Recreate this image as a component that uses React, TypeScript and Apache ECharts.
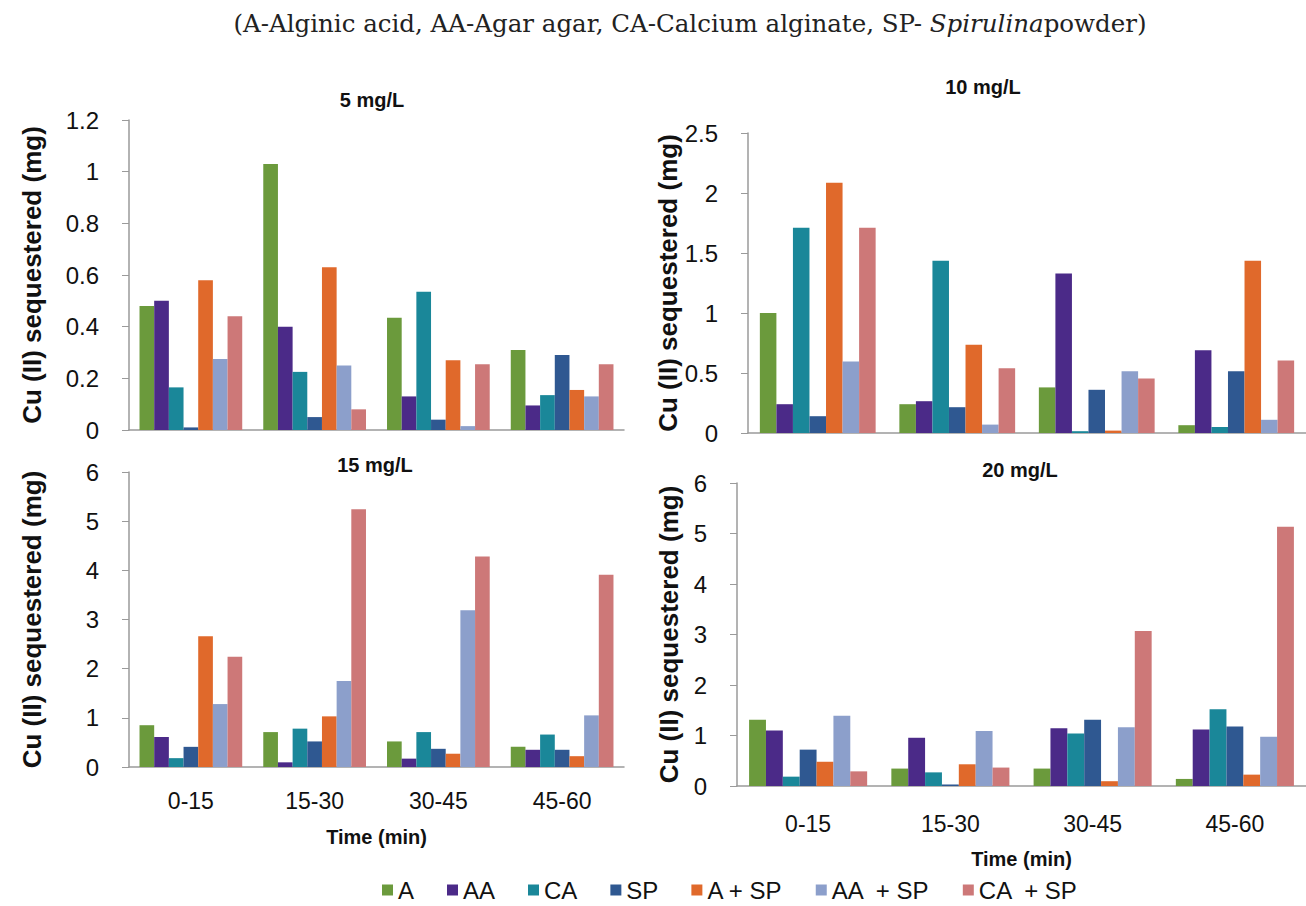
import React, { useEffect, useRef } from "react";
import * as echarts from "echarts";

const categories = ["0-15", "15-30", "30-45", "45-60"];
const seriesNames = ["A", "AA", "CA", "SP", "A + SP", "AA  + SP", "CA  + SP"];
const seriesColors = ["#6b9a3c", "#4b2a88", "#1a8799", "#2f5891", "#e0692b", "#8c9fcb", "#cd7878"];
const panelTitles = ["5 mg/L", "10 mg/L", "15 mg/L", "20 mg/L"];

// rows: A, AA, CA, SP, A+SP, AA+SP, CA+SP ; columns: categories
const mg5 = [
  [0.48, 1.03, 0.435, 0.31],
  [0.5, 0.4, 0.13, 0.095],
  [0.165, 0.225, 0.535, 0.135],
  [0.01, 0.05, 0.04, 0.29],
  [0.58, 0.63, 0.27, 0.155],
  [0.275, 0.25, 0.015, 0.13],
  [0.44, 0.08, 0.255, 0.255],
];
const mg10 = [
  [1.0, 0.24, 0.38, 0.065],
  [0.24, 0.265, 1.33, 0.69],
  [1.71, 1.435, 0.015, 0.05],
  [0.14, 0.215, 0.36, 0.515],
  [2.085, 0.735, 0.02, 1.435],
  [0.595, 0.07, 0.515, 0.11],
  [1.71, 0.54, 0.455, 0.605],
];
const mg15 = [
  [0.85, 0.71, 0.52, 0.41],
  [0.61, 0.095, 0.17, 0.35],
  [0.18, 0.78, 0.71, 0.66],
  [0.41, 0.52, 0.37, 0.35],
  [2.66, 1.03, 0.27, 0.22],
  [1.28, 1.75, 3.19, 1.05],
  [2.24, 5.24, 4.28, 3.91],
];
const mg20 = [
  [1.31, 0.345, 0.345, 0.14],
  [1.1, 0.955, 1.145, 1.12],
  [0.185, 0.27, 1.04, 1.52],
  [0.72, 0.03, 1.31, 1.18],
  [0.48, 0.43, 0.095, 0.225],
  [1.39, 1.09, 1.165, 0.975],
  [0.29, 0.365, 3.07, 5.135],
];
const yMax = [1.2, 2.5, 6, 6];
const yInterval = [0.2, 0.5, 1, 1];
const yAxisTitle = "Cu (II) sequestered (mg)";
const xAxisTitle = "Time (min)";

const panels = [mg5, mg10, mg15, mg20];

const SANS = "'Liberation Sans', Arial, sans-serif";
const SERIF = "'DejaVu Serif', 'Liberation Serif', serif";

export default function App() {
  const ref = useRef<HTMLDivElement>(null);
  useEffect(() => {
    if (!ref.current) return;
    const chart = echarts.init(ref.current, undefined, { renderer: "svg" });
    const grids = [
      { left: 129, top: 120, width: 495, height: 310 },
      { left: 748, top: 133, width: 558, height: 300 },
      { left: 129, top: 472, width: 495, height: 295 },
      { left: 737, top: 483, width: 569, height: 303 },
    ];
    const nameGaps = [84, 66, 84, 55];
    const xLabelMargin = [0, 0, 22, 26];
    const xNameGap = [0, 0, 60, 63];
    const axisColor = "#9a9a9a";
    const xAxes = grids.map((_, i) => ({
      type: "category",
      gridIndex: i,
      data: categories,
      axisLine: { lineStyle: { color: axisColor, width: 1.5 } },
      axisTick: { show: false },
      axisLabel: {
        show: i >= 2,
        fontSize: 23,
        fontFamily: SANS,
        color: "#111",
        margin: xLabelMargin[i],
      },
      name: i >= 2 ? xAxisTitle : "",
      nameLocation: "middle",
      nameGap: xNameGap[i],
      nameTextStyle: { fontSize: 20, fontWeight: "bold", fontFamily: SANS, color: "#111" },
    }));
    const yAxes = grids.map((_, i) => ({
      type: "value",
      gridIndex: i,
      min: 0,
      max: yMax[i],
      interval: yInterval[i],
      splitLine: { show: false },
      axisLine: { show: true, lineStyle: { color: axisColor, width: 1.5 } },
      axisTick: { show: true, length: 7, lineStyle: { color: axisColor } },
      axisLabel: {
        fontSize: 24,
        fontFamily: SANS,
        color: "#111",
        margin: 30,
        formatter: (v: number) => String(+v.toFixed(2)),
      },
      name: yAxisTitle,
      nameLocation: "middle",
      nameGap: nameGaps[i],
      nameTextStyle: { fontSize: 26, fontWeight: "bold", fontFamily: SANS, color: "#111" },
    }));
    const series: any[] = [];
    panels.forEach((panel, p) => {
      panel.forEach((row, s) => {
        series.push({
          type: "bar",
          name: seriesNames[s],
          xAxisIndex: p,
          yAxisIndex: p,
          data: row,
          barGap: "0%",
          barCategoryGap: "17%",
          itemStyle: { color: seriesColors[s] },
        });
      });
    });
    const titlePos = [
      [372, 100],
      [983, 87],
      [375, 465],
      [1020, 470],
    ];
    chart.setOption({
      animation: false,
      backgroundColor: "#ffffff",
      grid: grids,
      xAxis: xAxes,
      yAxis: yAxes,
      series,
      legend: {
        data: seriesNames,
        left: 382,
        top: 878,
        padding: 0,
        itemWidth: 11,
        itemHeight: 11,
        itemGap: 33,
        icon: "rect",
        textStyle: { fontSize: 24, fontFamily: SANS, color: "#111", lineHeight: 24 },
      },
      graphic: [
        {
          type: "text",
          x: 690,
          y: 23,
          style: {
            text: "(A-Alginic acid, AA-Agar agar, CA-Calcium alginate, SP- {i|Spirulina}powder)",
            fontSize: 24.5,
            fontFamily: SERIF,
            fill: "#222",
            textAlign: "center",
            textVerticalAlign: "middle",
            rich: {
              i: {
                fontStyle: "italic",
                fontSize: 24.5,
                fontFamily: SERIF,
                fill: "#222",
              },
            },
          },
        },
        ...panelTitles.map((t, i) => ({
          type: "text",
          x: titlePos[i][0],
          y: titlePos[i][1],
          style: {
            text: t,
            fontSize: 20,
            fontWeight: "bold",
            fontFamily: SANS,
            fill: "#111",
            textAlign: "center",
            textVerticalAlign: "middle",
          },
        })),
      ],
    });
    return () => chart.dispose();
  }, []);
  return (
    <div
      ref={ref}
      style={{ position: "fixed", left: 0, top: 0, width: 1306, height: 906, background: "#fff" }}
    />
  );
}
